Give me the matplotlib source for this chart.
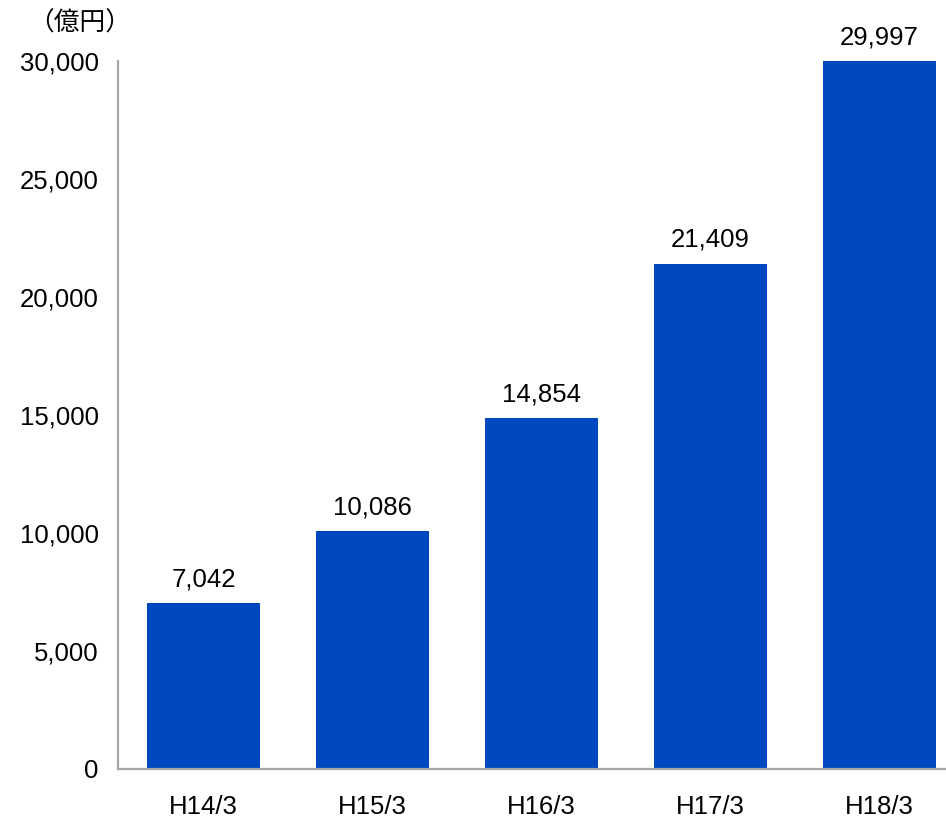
import matplotlib
matplotlib.use("Agg")
import matplotlib.pyplot as plt

# Data
categories = ["H14/3", "H15/3", "H16/3", "H17/3", "H18/3"]
values = [7042, 10086, 14854, 21409, 29997]
yticks = [0, 5000, 10000, 15000, 20000, 25000, 30000]

BAR_COLOR = "#0048C0"
AXIS_COLOR = "#A6A6A6"
FS = 18.5

plt.rcParams["font.family"] = ["Liberation Sans", "Noto Sans CJK JP", "DejaVu Sans"]

fig = plt.figure(figsize=(9.46, 8.25), dpi=100)
ax = fig.add_axes([118 / 946, 1 - 769 / 825, 1 - 118 / 946, (769 - 61) / 825])

x = list(range(len(categories)))
ax.bar(x, values, width=0.67, color=BAR_COLOR, zorder=2)

for xi, v in zip(x, values):
    ax.annotate(f"{v:,}", (xi, v), xytext=(0, 8.5), textcoords="offset points",
                ha="center", va="bottom", fontsize=FS)

ax.set_xlim(-0.506, 4.393)
ax.set_ylim(0, 30000)
ax.set_yticks(yticks)
ax.set_yticklabels([f"{t:,}" for t in yticks], fontsize=FS)
ax.set_xticks(x)
ax.set_xticklabels(categories, fontsize=FS)
ax.tick_params(axis="y", length=0, pad=14)
ax.tick_params(axis="x", length=0, pad=19)

for s in ("top", "right"):
    ax.spines[s].set_visible(False)
for s in ("left", "bottom"):
    ax.spines[s].set_color(AXIS_COLOR)
    ax.spines[s].set_linewidth(1.6)

fig.text(80 / 946, 1 - 24 / 825, "（億円）", ha="center", va="center",
         fontsize=18.5, family=["Noto Sans CJK JP", "DejaVu Sans"])

fig.savefig("out.png", dpi=100)
